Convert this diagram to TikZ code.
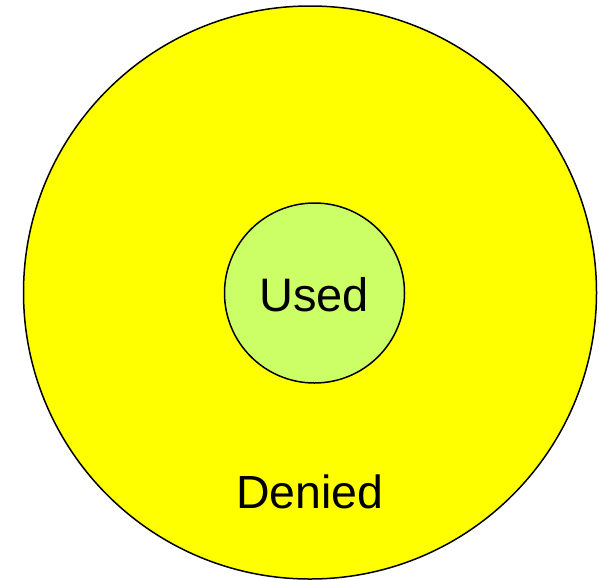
\documentclass[tikz,border=0pt]{standalone}
\usepackage{fontspec}
\setmainfont{Liberation Sans}
\usepackage{tikz}
\definecolor{deniedyellow}{HTML}{FFFF00}
\definecolor{usedgreen}{HTML}{CCFF66}

\begin{document}
\begin{tikzpicture}[x=1pt,y=-1pt]
    \useasboundingbox (0,0) rectangle (599,579);
    \coordinate (O) at (310,292.5);
    \coordinate (U) at (314.5,293);
    \filldraw[fill=deniedyellow, draw=black, line width=1.5pt] (O) circle (286.5);
    \filldraw[fill=usedgreen, draw=black, line width=1.5pt] (U) circle (90);
    \node[anchor=base, inner sep=0pt, font=\fontsize{47}{47}\selectfont] (used) at (314,311) {Used};
    \node[anchor=base, inner sep=0pt, font=\fontsize{46.5}{46.5}\selectfont] (denied) at (310,508) {Denied};
\end{tikzpicture}
\end{document}
